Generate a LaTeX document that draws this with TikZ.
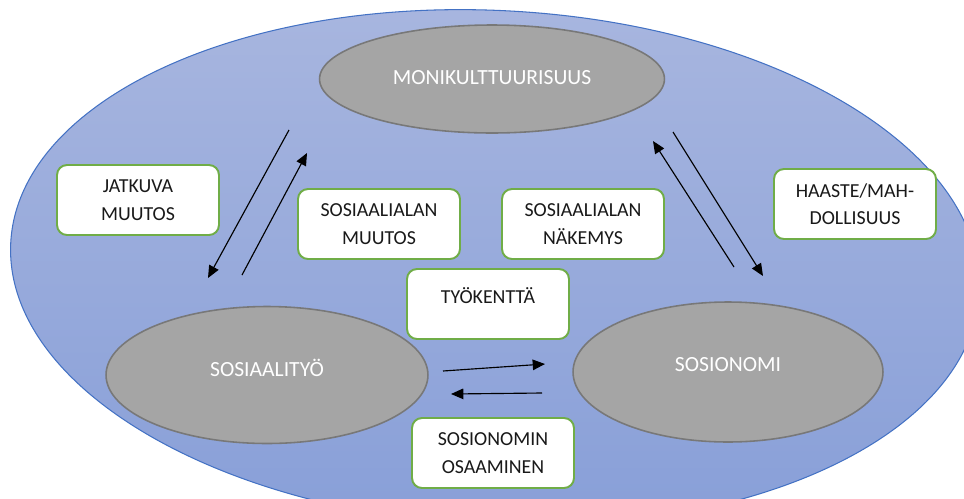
\documentclass[tikz,border=0pt]{standalone}
\usepackage{fontspec}
\setmainfont{Carlito}
\usepackage{tikz}
\usetikzlibrary{positioning,shapes.geometric,arrows.meta}
\tikzstyle{canvasPx} = [x = 0.02cm, y = -0.02cm]
\definecolor{fieldTop}{RGB}{168,182,223}
\definecolor{fieldBottom}{RGB}{136,159,216}
\definecolor{fieldEdge}{RGB}{68,114,196}
\definecolor{blobFill}{RGB}{165,165,165}
\definecolor{blobEdge}{RGB}{120,120,120}
\definecolor{boxEdge}{RGB}{112,173,71}
\tikzstyle{fieldStyle} = [ellipse, draw=fieldEdge, line width=0.6pt, top color=fieldTop, bottom color=fieldBottom, minimum width=19.4cm, minimum height=10.3cm]
\tikzstyle{blobStyle} = [ellipse, draw=blobEdge, fill=blobFill, line width=0.9pt, text=white, font=\fontsize{12.3}{14}\selectfont, inner sep=0pt]
\tikzstyle{boxStyle} = [rectangle, draw=boxEdge, fill=white, line width=1.1pt, rounded corners=0.2cm, minimum width=3.24cm, minimum height=1.4cm, align=center, font=\fontsize{11.3}{15.6}\selectfont, text=black!90]
\tikzstyle{arrowStyle} = [black, line width=0.65pt, -{Triangle[length=7pt, width=6pt]}]
\newcommand{\labelBox}[3]{\node [boxStyle] (#1) at (#2) {#3};}
\newcommand{\flowArrow}[2]{\draw [arrowStyle] (#1) -- (#2);}

\begin{document}
\begin{tikzpicture}[canvasPx]
        \useasboundingbox (0,0) rectangle (964,498);
        \clip (0,0) rectangle (964,498);
        \node [fieldStyle, rotate=-3] (field) at (495,268) {};
        % the three themes
        \node [blobStyle, minimum width=6.9cm, minimum height=2.16cm, text depth=2pt] (moni) at (492,79) {MONIKULTTUURISUUS};
        \node [blobStyle, minimum width=6.44cm, minimum height=2.74cm, text depth=8pt] (sosTyo) at (267,375) {SOSIAALITYÖ};
        \node [blobStyle, minimum width=6.2cm, minimum height=2.8cm, text depth=8pt] (sosNomi) at (728,372) {SOSIONOMI};
        % labels
        \labelBox{jatkuva}{138,200}{JATKUVA\\MUUTOS}
        \labelBox{alaMuutos}{379,224}{SOSIAALIALAN\\MUUTOS}
        \labelBox{alaNakemys}{583,224}{SOSIAALIALAN\\NÄKEMYS}
        \labelBox{haaste}{855,204}{HAASTE/MAH-\\DOLLISUUS}
        \node [boxStyle, text depth=9.5pt] (tyokentta) at (488,304) {TYÖKENTTÄ};
        \labelBox{osaaminen}{493,453}{SOSIONOMIN\\OSAAMINEN}
        % arrow ends
        \coordinate (moniOutL) at (289,130);
        \coordinate (tyoInUp) at (208,278);
        \coordinate (tyoOutUp) at (242,275);
        \coordinate (moniInL) at (307,153);
        \coordinate (nomiOutUp) at (734,267);
        \coordinate (moniInR) at (653,141);
        \coordinate (moniOutR) at (673,132);
        \coordinate (nomiInUp) at (763,276);
        \coordinate (tyoOutR) at (443,371);
        \coordinate (nomiInL) at (545,364);
        \coordinate (nomiOutL) at (542,393);
        \coordinate (tyoInR) at (451,394);
        \flowArrow{moniOutL}{tyoInUp}
        \flowArrow{tyoOutUp}{moniInL}
        \flowArrow{nomiOutUp}{moniInR}
        \flowArrow{moniOutR}{nomiInUp}
        \flowArrow{tyoOutR}{nomiInL}
        \flowArrow{nomiOutL}{tyoInR}
      \end{tikzpicture}
\end{document}
